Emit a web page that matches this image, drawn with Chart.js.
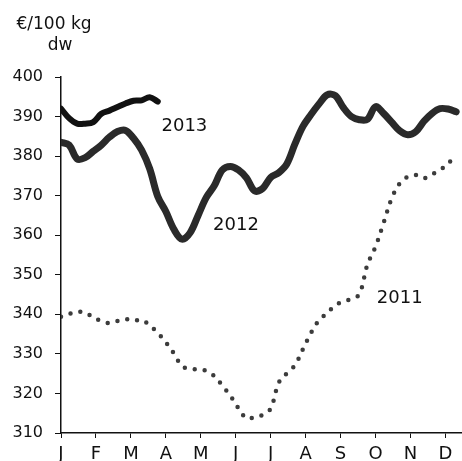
<!DOCTYPE html>
<html>
<head>
<meta charset="utf-8">
<script src="https://cdn.jsdelivr.net/npm/chart.js@4.4.1/dist/chart.umd.min.js"></script>
<style>
  body { margin: 0; background: #fff; }
  canvas { display: block; }
</style>
</head>
<body>
<canvas id="priceChart" width="462" height="461"></canvas>
<script>
// month initials, one tick at the start of each month (x is in weeks)
const monthLabels = ['J', 'F', 'M', 'A', 'M', 'J', 'J', 'A', 'S', 'O', 'N', 'D'];
const yTicks = [310, 320, 330, 340, 350, 360, 370, 380, 390, 400];

// weekly prices, €/100 kg dw
const prices2011 = [339.4, 340.1, 340.6, 340.5, 339.2, 338.3, 337.8, 338.3, 338.8, 338.4,
                    338.6, 337.2, 335.3, 332.9, 330.1, 326.9, 326.2, 326.1, 325.7, 324.4,
                    322.0, 319.4, 316.3, 313.7, 314.0, 314.6, 316.2, 322.7, 325.1, 327.1,
                    331.2, 335.3, 338.5, 340.3, 342.3, 343.2, 343.9, 345.1, 352.6, 357.1,
                    363.1, 369.3, 373.1, 374.8, 375.2, 374.4, 375.4, 376.5, 378.1, 380.6];
const prices2012 = [383.5, 382.8, 379.3, 379.6, 381.2, 382.8, 384.8, 386.2, 386.5, 384.5,
                    381.5, 376.8, 369.8, 366.0, 361.5, 359.0, 360.6, 365.0, 369.5, 372.5,
                    376.5, 377.4, 376.5, 374.5, 371.2, 371.8, 374.6, 375.8, 378.0, 383.0,
                    387.5, 390.5, 393.2, 395.5, 395.3, 392.3, 390.0, 389.2, 389.3, 392.5,
                    390.8, 388.6, 386.4, 385.4, 386.2, 388.8, 390.8, 392.0, 391.9, 391.2];
const prices2013 = [392.0, 389.6, 388.2, 388.2, 388.6, 390.7, 391.5, 392.4, 393.3, 394.0,
                    394.1, 394.9, 393.8];

const toPoints = arr => arr.map((v, i) => ({ x: i, y: v }));
const FONT = '"DejaVu Sans", sans-serif';

const textPlugin = {
    id: 'textLabels',
    afterDraw(chart) {
        const ctx = chart.ctx;
        const xs = chart.scales.x, ys = chart.scales.y;
        ctx.save();
        ctx.fillStyle = '#111';
        ctx.textAlign = 'center';
        ctx.textBaseline = 'middle';
        ctx.font = '17px ' + FONT;
        ctx.fillText('€/100 kg', 54, 25);
        ctx.fillText('dw', 60, 46);
        ctx.font = '18px ' + FONT;
        ctx.fillText('2013', xs.getPixelForValue(15.3), ys.getPixelForValue(387.6));
        ctx.fillText('2012', xs.getPixelForValue(21.7), ys.getPixelForValue(362.6));
        ctx.fillText('2011', xs.getPixelForValue(42.0), ys.getPixelForValue(344.1));
        ctx.restore();
    }
};

const lineBase = { pointRadius: 0, tension: 0.35, borderJoinStyle: 'round', fill: false };

new Chart(document.getElementById('priceChart'), {
    type: 'line',
    data: {
        datasets: [
            Object.assign({ label: '2011', data: toPoints(prices2011), borderColor: '#3c3c3c',
                borderWidth: 4.5, borderDash: [0, 10], borderCapStyle: 'round' }, lineBase),
            Object.assign({ label: '2012', data: toPoints(prices2012), borderColor: '#2a2a2a',
                borderWidth: 7, borderCapStyle: 'round' }, lineBase),
            Object.assign({ label: '2012 core', data: toPoints(prices2012), borderColor: '#9a9a9a',
                borderWidth: 2 }, lineBase),
            Object.assign({ label: '2013', data: toPoints(prices2013), borderColor: '#111',
                borderWidth: 6, borderCapStyle: 'round' }, lineBase)
        ]
    },
    options: {
        responsive: false,
        animation: false,
        layout: { padding: { top: 77, right: 1, left: 0, bottom: 0 } },
        scales: {
            x: {
                type: 'linear',
                min: 0,
                max: 49.6,
                afterBuildTicks: scale => {
                    scale.ticks = monthLabels.map((m, i) => ({ value: i * 52 / 12 }));
                },
                afterFit: scale => { scale.height = 28; },
                ticks: {
                    autoSkip: false,
                    maxRotation: 0,
                    padding: 6,
                    color: '#111',
                    font: { family: FONT, size: 18 },
                    callback: (v, i) => monthLabels[i]
                },
                grid: { display: true, drawOnChartArea: false, drawTicks: true, tickLength: 5, color: '#111' },
                border: { display: true, color: '#111', width: 1.5 }
            },
            y: {
                min: 310,
                max: 400,
                afterBuildTicks: scale => {
                    scale.ticks = yTicks.map(v => ({ value: v }));
                },
                afterFit: scale => { scale.width = 61; },
                ticks: {
                    padding: 12,
                    color: '#111',
                    font: { family: FONT, size: 16 },
                    callback: v => String(v)
                },
                grid: { display: true, drawOnChartArea: false, drawTicks: true, tickLength: 6, color: '#111' },
                border: { display: true, color: '#111', width: 1.5 }
            }
        },
        plugins: {
            legend: { display: false },
            tooltip: { enabled: false }
        }
    },
    plugins: [textPlugin]
});
</script>
</body>
</html>
